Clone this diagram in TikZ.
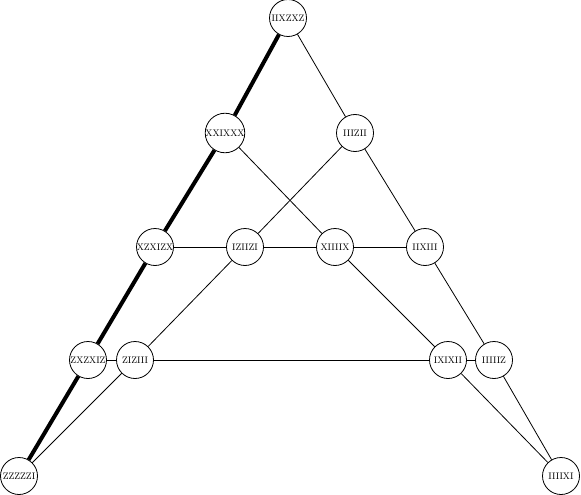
\documentclass[tikz,border=0pt]{standalone}
\usetikzlibrary{positioning}
\tikzset{
    pauli/.style={circle, draw=black, fill=white, minimum size=37pt, inner sep=0pt, font=\fontsize{9.5}{11}\selectfont, line width=0.8pt},
    link/.style={draw=black, line width=0.8pt},
    boldlink/.style={draw=black, line width=4pt},
}
\begin{document}
\begin{tikzpicture}[x=1pt, y=-1pt]
    \useasboundingbox (0,0) rectangle (581,495);

    % top
    \node[pauli] (top) at (288,18) {IIXZXZ};
    % second row
    \node[pauli] (l2) at (225,133) {XXIXXX};
    \node[pauli] (r2) at (355,133) {IIIZII};
    % middle row
    \node[pauli] (l3) at (155,247) {XZXIZX};
    \node[pauli] (m3a) at (245,247) {IZIIZI};
    \node[pauli] (m3b) at (335,247) {XIIIIX};
    \node[pauli] (r3) at (425,247) {IIXIII};
    % fourth row
    \node[pauli] (l4) at (88,360) {ZXZXIZ};
    \node[pauli] (m4a) at (135,360) {ZIZIII};
    \node[pauli] (m4b) at (448,360) {IXIXII};
    \node[pauli] (r4) at (494,360) {IIIIIZ};
    % corners
    \node[pauli] (bl) at (19,476) {ZZZZZI};
    \node[pauli] (br) at (561,476) {IIIIXI};

    % thin lines
    \path[link] (top) -- (r2) -- (r3) -- (r4) -- (br);
    \path[link] (l2) -- (m3b) -- (m4b) -- (br);
    \path[link] (r2) -- (m3a) -- (m4a) -- (bl);
    \path[link] (l3) -- (m3a) -- (m3b) -- (r3);
    \path[link] (l4) -- (m4a) -- (m4b) -- (r4);
    % thick line
    \path[boldlink] (top) -- (l2) -- (l3) -- (l4) -- (bl);
\end{tikzpicture}
\end{document}
